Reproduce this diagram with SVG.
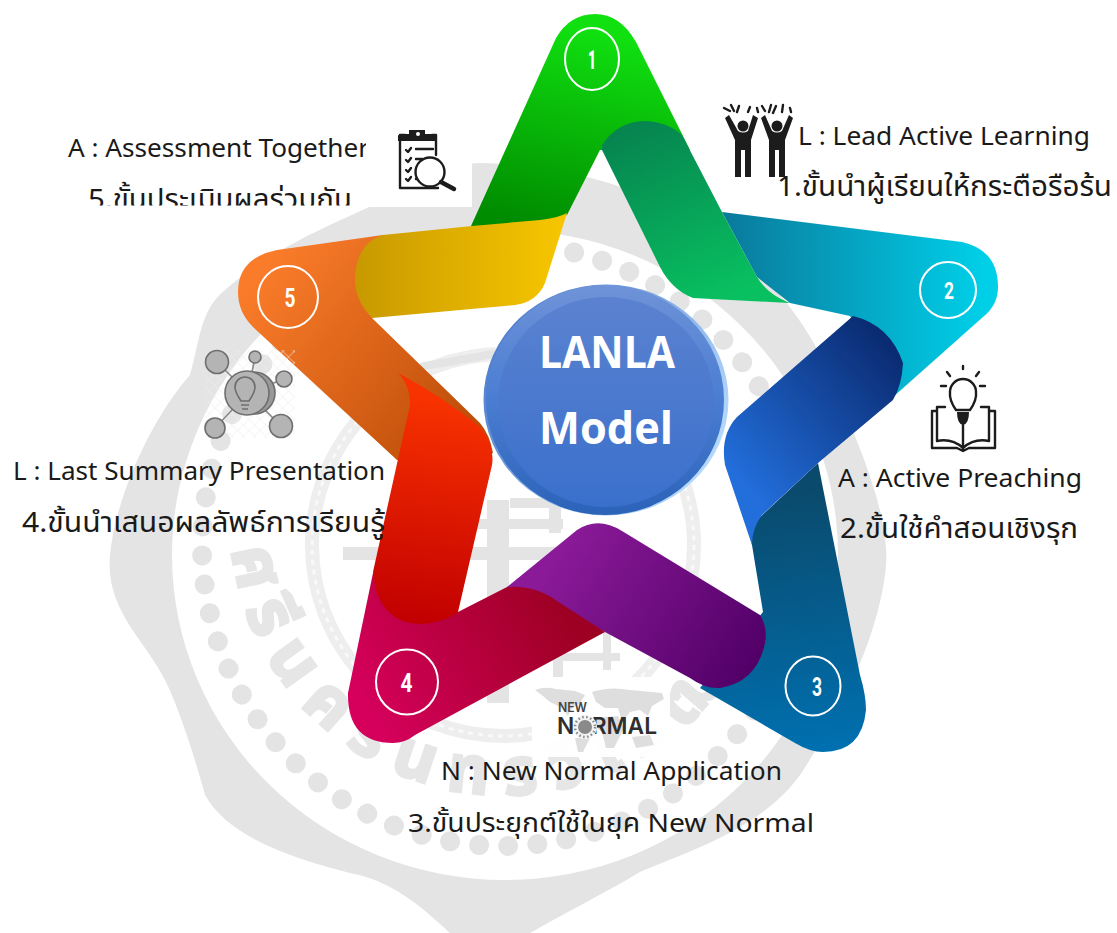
<svg xmlns="http://www.w3.org/2000/svg" width="1117" height="933" viewBox="0 0 1117 933">
<style>
.t{font-family:"Noto Sans","Noto Sans Thai","Liberation Sans","DejaVu Sans",sans-serif;font-size:26px;fill:#1a1a1a}
.th{font-size:28px}
.n{font-family:"Roboto","Liberation Sans",sans-serif;font-weight:700;font-size:25px;fill:#fff;text-anchor:middle}
.r{fill:none;stroke:#fff;stroke-width:2}
.ic{fill:none;stroke:#1c1c1c;stroke-width:2.4;stroke-linecap:round;stroke-linejoin:round}
.ib{fill:#1c1c1c}
.g{fill:#e4e4e4}
.sat{fill:#b4b4b4;stroke:#6e6e6e;stroke-width:1.6}
.nl{stroke:#8a8a8a;stroke-width:1.6}
</style>
<defs>
<linearGradient id="gGreen" gradientUnits="userSpaceOnUse" x1="590" y1="30" x2="540" y2="226"><stop offset="0" stop-color="#10e010"/><stop offset="1" stop-color="#008c00"/></linearGradient>
<linearGradient id="gDG" gradientUnits="userSpaceOnUse" x1="640" y1="125" x2="720" y2="300"><stop offset="0" stop-color="#068550"/><stop offset="1" stop-color="#08c060"/></linearGradient>
<linearGradient id="gTeal" gradientUnits="userSpaceOnUse" x1="725" y1="0" x2="985" y2="0"><stop offset="0" stop-color="#0a7a9c"/><stop offset="1" stop-color="#00cfe8"/></linearGradient>
<linearGradient id="gNavy" gradientUnits="userSpaceOnUse" x1="890" y1="340" x2="735" y2="480"><stop offset="0" stop-color="#0a2a70"/><stop offset="1" stop-color="#226fdc"/></linearGradient>
<linearGradient id="gDB" gradientUnits="userSpaceOnUse" x1="790" y1="490" x2="820" y2="750"><stop offset="0" stop-color="#0a4a6c"/><stop offset="1" stop-color="#0070b0"/></linearGradient>
<linearGradient id="gPur" gradientUnits="userSpaceOnUse" x1="560" y1="550" x2="750" y2="670"><stop offset="0" stop-color="#8a1a98"/><stop offset="1" stop-color="#520068"/></linearGradient>
<linearGradient id="gCri" gradientUnits="userSpaceOnUse" x1="370" y1="720" x2="560" y2="610"><stop offset="0" stop-color="#d6005c"/><stop offset="1" stop-color="#9e0024"/></linearGradient>
<linearGradient id="gRed" gradientUnits="userSpaceOnUse" x1="445" y1="400" x2="415" y2="620"><stop offset="0" stop-color="#f83200"/><stop offset="1" stop-color="#c20000"/></linearGradient>
<linearGradient id="gOr" gradientUnits="userSpaceOnUse" x1="260" y1="270" x2="470" y2="440"><stop offset="0" stop-color="#fa7c2a"/><stop offset="1" stop-color="#bc4c08"/></linearGradient>
<linearGradient id="gYe" gradientUnits="userSpaceOnUse" x1="360" y1="0" x2="560" y2="0"><stop offset="0" stop-color="#c99a00"/><stop offset="1" stop-color="#f6c500"/></linearGradient>
<linearGradient id="gC1" x1="0" y1="0" x2="0" y2="1"><stop offset="0" stop-color="#6f93d8"/><stop offset=".5" stop-color="#4a7dd2"/><stop offset="1" stop-color="#2b63b8"/></linearGradient>
<linearGradient id="gC2" x1="0" y1="0" x2="0" y2="1"><stop offset="0" stop-color="#5b82d0"/><stop offset="1" stop-color="#3a70cc"/></linearGradient>
<linearGradient id="gC3" x1="0" y1="0" x2="1" y2=".6"><stop offset="0" stop-color="#3f6fc4"/><stop offset="1" stop-color="#b4d8fc"/></linearGradient>
<pattern id="hatch" width="8" height="8" patternUnits="userSpaceOnUse" patternTransform="rotate(45)"><path d="M0 0H8M0 0V8" stroke="#eeeeee" stroke-width="1" fill="none"/></pattern>
<clipPath id="c5a"><rect x="0" y="120" width="366" height="50"/></clipPath>
<clipPath id="c5b"><rect x="0" y="170" width="470" height="35.500"/></clipPath>
<path id="arcB" d="M 231,525 A 273,273 0 0 0 776,545"/>
</defs>

<g id="seal">
<path class="g" d="M 480,163 C 560,165 640,185 700,225 C 770,270 815,330 840,400 C 870,470 892,530 885,575 C 875,650 830,730 800,775 C 760,830 690,850 640,872 C 610,890 580,905 530,933 L 450,933 C 420,905 390,880 350,873 C 300,860 230,840 205,795 C 190,740 175,700 165,680 C 145,640 105,610 110,555 C 115,500 150,420 190,375 C 200,340 200,310 225,290 C 270,250 330,225 367,208 C 400,185 440,165 480,163 Z"/>
<ellipse cx="505" cy="555" rx="333" ry="325" fill="#fff"/>
<circle cx="503" cy="545" r="301" fill="none" stroke="#e4e4e4" stroke-width="20" stroke-linecap="round" stroke-dasharray="0.01 29.2"/>
<circle cx="503" cy="545" r="191" fill="none" stroke="#eeeeee" stroke-width="14"/>
<circle cx="503" cy="545" r="191" fill="none" stroke="#f9f9f9" stroke-width="3" stroke-dasharray="5 5"/>
<text font-family="Noto Sans Thai,Noto Sans,Liberation Sans,sans-serif" font-size="66" font-weight="700" fill="#e6e6e6" stroke="#e6e6e6" stroke-width="3" letter-spacing="17"><textPath href="#arcB" startOffset="3%">ศรีนครินทรวิโรฒ</textPath></text>
<g class="g">
<rect x="343" y="547" width="222" height="13"/><rect x="487" y="500" width="22" height="203"/>
<rect x="510" y="498" width="42" height="10"/><rect x="549" y="498" width="12" height="35"/>
<rect x="473" y="519" width="90" height="10"/>
<rect x="553" y="630" width="10" height="47"/><rect x="550" y="653" width="70" height="8"/><rect x="603" y="630" width="8" height="40"/>
<rect x="420" y="355" width="90" height="8" transform="rotate(-10 465 359)"/>
</g>
</g>

<g id="connectors">
<path id="band5" fill="url(#gOr)" d="M383,235 L277,250 Q238,258 238,292 Q238,312 253,327 L397,460 L440,470 L493,453 Q490,435 480,423 L372,318 Z"/>
<path id="band1" fill="url(#gGreen)" d="M471,226 L556,38 Q570,14 595,14 Q620,14 636,42 L690,150 L600,150 L567,215 L500,240 Z"/>
<path id="band2" fill="url(#gTeal)" d="M722,212 L962,242 Q998,250 998,287 Q998,305 983,317 L893,397 L850,316 L790,303 L757,277 Z"/>
<path id="band3" fill="url(#gDB)" d="M757,520 L818,463 L860,675 Q866,695 866,710 Q862,752 823,752 Q810,752 795,743 L700,688 L740,640 L763,612 L752,545 Q750,530 757,520 Z"/>
<path id="band3b" fill="url(#gPur)" d="M507,587 L577,530 Q598,516 622,531 L760,615 Q768,628 765,643 Q757,682 720,688 Q705,689 690,678 L605,632 L540,600 Z"/>
<path id="band4" fill="url(#gCri)" d="M373,573 L348,693 Q347,743 393,743 Q405,743 415,735 L605,632 L557,601 Q535,585 507,587 L458,612 L400,600 Z"/>
<path id="band4b" fill="url(#gRed)" d="M398,373 Q410,385 410,405 L373,572 Q378,624 422,624 Q445,622 458,612 L492,465 Q495,445 480,427 Q440,395 398,373 Z"/>
<path id="band5b" fill="url(#gYe)" d="M567,213 L545,283 Q537,302 515,305 L372,318 Q355,300 355,280 Q356,243 383,235 L472,226 L540,220 Q558,218 567,213 Z"/>
<path id="band2b" fill="url(#gNavy)" d="M853,316 Q890,325 903,363 Q902,385 893,400 L818,463 L762,515 Q752,528 752,545 L725,465 Q720,435 737,417 Z"/>
<path id="band1b" fill="url(#gDG)" d="M602,145 Q618,121 645,121 Q668,122 682,135 L722,212 L757,277 Q768,295 790,303 L693,298 Q672,290 660,267 L602,150 Z"/>
</g>

<g id="node-center">
<ellipse cx="606" cy="400" rx="122.500" ry="115.500" fill="url(#gC3)"/>
<ellipse cx="605" cy="400" rx="119" ry="115" fill="url(#gC1)"/>
<ellipse cx="606" cy="402" rx="108" ry="105" fill="url(#gC2)"/>
<text x="607" y="368" text-anchor="middle" font-family="Open Sans,Noto Sans,Liberation Sans,sans-serif" font-weight="700" font-size="44" fill="#fff" textLength="136" lengthAdjust="spacingAndGlyphs">LANLA</text>
<text x="606" y="444" text-anchor="middle" font-family="Open Sans,Noto Sans,Liberation Sans,sans-serif" font-weight="700" font-size="44" fill="#fff" textLength="134" lengthAdjust="spacingAndGlyphs">Model</text>
</g>

<g id="node-1">
<ellipse class="r" cx="592" cy="59" rx="27" ry="31"/>
<text class="n" x="592" y="69" style="font-weight:900" textLength="8" lengthAdjust="spacingAndGlyphs">1</text>
<g id="icon-people">
<g class="ib"><circle cx="743" cy="126" r="5.500"/><circle cx="777" cy="126" r="5.500"/>
<path d="M725,118 L729,115 L738,131 Q743,134 748,131 L753,115 L758,118 L751,140 V177 H745 V150 H741 V177 H735 V140 Z"/>
<path d="M761,118 L765,115 L772,131 Q777,134 782,131 L789,115 L793,118 L785,140 V177 H779 V150 H775 V177 H769 V140 Z"/></g>
<path class="ic" stroke-width="1.600" d="M724,108l6,3M731,105l3,6M737,112l2,-6M750,107l-2,5M757,108l1,4M762,106l3,5M769,112l2,-7M776,106l-3,7M783,105l-1,7M790,108l1,4"/>
</g>
<text class="t" x="798" y="145" textLength="292" lengthAdjust="spacingAndGlyphs">L : Lead Active Learning</text>
<text class="t th" x="777" y="196" textLength="335" lengthAdjust="spacingAndGlyphs">1.ขั้นนำผู้เรียนให้กระตือรือร้น</text>
</g>

<g id="node-2">
<ellipse class="r" cx="948" cy="290" rx="28" ry="28"/>
<text class="n" x="949" y="299" style="font-size:23px" textLength="10" lengthAdjust="spacingAndGlyphs">2</text>
<g id="icon-book">
<rect x="930" y="366" width="68" height="88" fill="#fff"/>
<path class="ic" d="M956,410 Q949,400 950,392 A13,13 0 1 1 976,392 Q977,400 970,410 Z"/>
<path class="ib" d="M957,412 H969 Q969,424 963,425 Q957,424 957,412 Z"/>
<path class="ic" d="M963,366v3M947,372l3,4M979,372l-3,4M941,386h5M980,386h5M963,425V450M945,407H937V441Q952,438 963,448Q974,438 989,441V407H981M937,411H932V448H957L963,451L969,448H995V411H989"/>
</g>
<text class="t" x="838" y="487" textLength="244" lengthAdjust="spacingAndGlyphs">A : Active Preaching</text>
<text class="t th" x="840" y="538" textLength="238" lengthAdjust="spacingAndGlyphs">2.ขั้นใช้คำสอนเชิงรุก</text>
</g>

<g id="node-3">
<ellipse class="r" cx="813" cy="686" rx="27.500" ry="29.500"/>
<text class="n" x="817" y="696" textLength="10" lengthAdjust="spacingAndGlyphs">3</text>
<g id="icon-newnormal">
<rect x="532" y="677" width="138" height="80" fill="#fff" opacity=".95"/>
<path fill="#dedede" d="M535,690 Q545,686 556,689 L575,691 L585,695 L580,703 L572,708 L568,716 L562,708 L550,702 L543,696 Z"/>
<path fill="#dedede" d="M592,692 Q610,686 630,690 L662,693 L664,699 L652,706 L648,716 L640,710 L630,712 L622,722 L618,708 L605,708 L596,702 Z"/>
<path fill="#dedede" d="M596,718 L618,716 L624,728 L614,748 L606,748 L602,732 L594,726 Z"/>
<path fill="#dedede" d="M575,738 L590,738 L583,752 L578,752 Z M632,737 L650,735 L654,745 L636,748 Z"/>
<text x="558" y="712" font-family="Inter,Liberation Sans,sans-serif" font-weight="600" font-size="12.500" fill="#444" textLength="29" lengthAdjust="spacingAndGlyphs">NEW</text>
<text x="557" y="734" font-family="Inter,Liberation Sans,sans-serif" font-weight="600" font-size="23" fill="#2e2e2e" textLength="100" lengthAdjust="spacingAndGlyphs">NORMAL</text>
<circle cx="585" cy="727" r="12" fill="#f4f4f4"/><circle cx="585" cy="727" r="7" fill="#8a8a8a"/>
<circle cx="585" cy="727" r="10" fill="none" stroke="#8a8a8a" stroke-width="2.500" stroke-dasharray="1.500 2.500"/>
</g>
<text class="t" x="441" y="780" textLength="341" lengthAdjust="spacingAndGlyphs">N : New Normal Application</text>
<text class="t" x="408" y="832" textLength="406" lengthAdjust="spacingAndGlyphs">3.ขั้นประยุกต์ใช้ในยุค New Normal</text>
</g>

<g id="node-4">
<ellipse class="r" cx="407" cy="682" rx="31" ry="32.500"/>
<text class="n" x="406.500" y="692" textLength="12" lengthAdjust="spacingAndGlyphs">4</text>
<text class="t" x="13" y="480" textLength="372" lengthAdjust="spacingAndGlyphs">L : Last Summary Presentation</text>
<text class="t th" x="22" y="532" textLength="363" lengthAdjust="spacingAndGlyphs">4.ขั้นนำเสนอผลลัพธ์การเรียนรู้</text>
</g>

<g id="node-5">
<ellipse class="r" cx="288" cy="297" rx="30" ry="31"/>
<text class="n" x="290" y="307" textLength="11" lengthAdjust="spacingAndGlyphs">5</text>
<g id="icon-network">
<rect x="205" y="350" width="90" height="88" fill="url(#hatch)"/>
<path class="nl" d="M248,393L217,362M248,393L255,357M248,393L284,379M248,393L215,428M248,393L281,426"/>
<circle class="sat" cx="217" cy="362" r="11.500"/><circle class="sat" cx="255" cy="357" r="6"/><circle class="sat" cx="284" cy="379" r="8"/><circle class="sat" cx="215" cy="428" r="10"/><circle class="sat" cx="281" cy="426" r="11.500"/>
<circle class="sat" cx="254" cy="393" r="21" style="fill:#999"/><circle class="sat" cx="247" cy="393" r="22"/>
<path fill="none" stroke="#6e6e6e" stroke-width="1.600" d="M241,401 Q235,392 235,387 A10,10 0 0 1 255,387 Q255,392 249,401 Z M241,405H249M242,409H248"/>
</g>
<g id="icon-clipboard">
<rect x="0" y="0" width="472" height="207" fill="#fff"/>
<path class="ic" d="M405,135H400V188H438M432,135H436V155"/>
<path class="ib" d="M398,136Q398,134 403,134H409V130H425V134H433Q437,134 437,138V141H398Z"/>
<circle cx="418" cy="134" r="2" fill="#fff"/>
<path class="ic" d="M406,150l2,2l3,-4M406,160l2,2l3,-4M406,170l2,2l3,-4M406,179l2,2l3,-4M416,149H433M416,159H422M416,179H422"/>
<circle class="ic" cx="430" cy="172" r="14.500" style="fill:#fff"/>
<path d="M441,182L454,189" stroke="#1c1c1c" stroke-width="4.500" stroke-linecap="round"/>
</g>
<text class="t" x="68" y="157" textLength="301" lengthAdjust="spacingAndGlyphs" clip-path="url(#c5a)">A : Assessment Together</text>
<text class="t th" x="88" y="208.500" textLength="264" lengthAdjust="spacingAndGlyphs" clip-path="url(#c5b)">5.ขั้นประเมินผลร่วมกัน</text>
</g>
</svg>
